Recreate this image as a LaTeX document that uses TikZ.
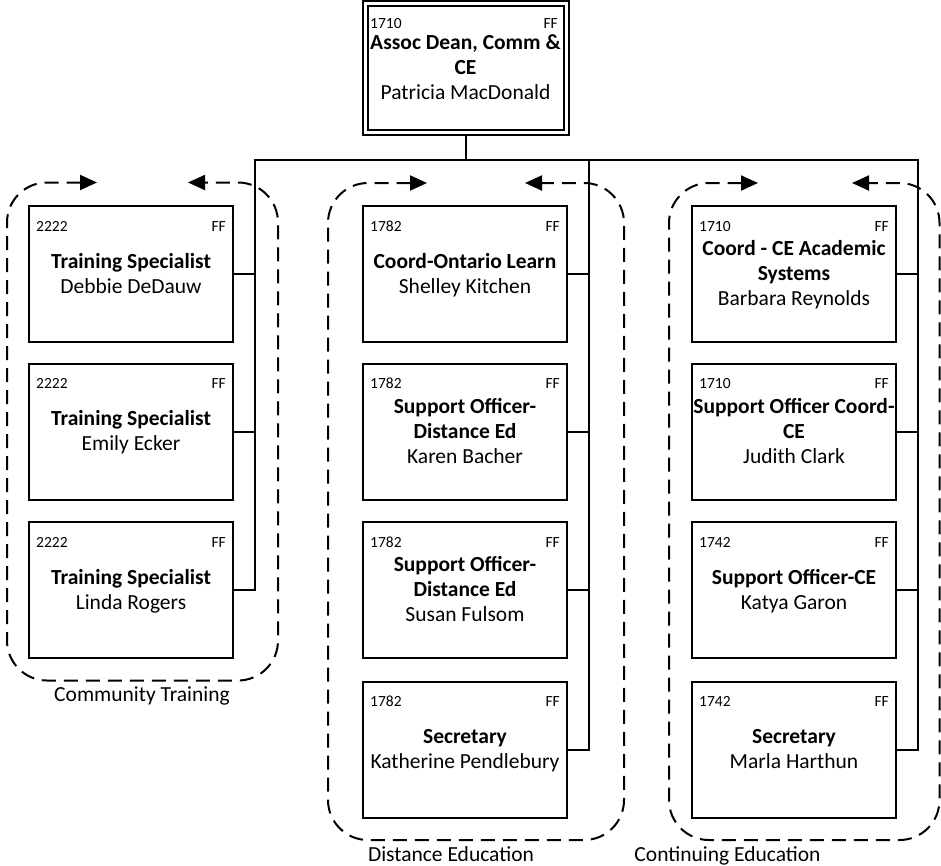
\documentclass[tikz,border=0pt]{standalone}
\usepackage{fontspec}
\setmainfont{Carlito}
\usetikzlibrary{arrows.meta}
\newcommand\Ttl[1]{\smash{\textbf{#1}}}
\newcommand\Nm[1]{\smash{#1}}
\newcommand\Fst{\rule{0pt}{13.8pt}}
\newcommand\orgbox[5]{%
  \node[obox] (#1) at (#2,#3) {#5};
  \node[ocode,anchor=base west] (#1-code) at ([xshift=8pt,yshift=-26pt]#1.north west) {#4};
  \node[ocode,anchor=base east] (#1-ff) at ([xshift=-8pt,yshift=-26pt]#1.north east) {FF};
}
\tikzset{
  obox/.style={draw=black, line width=2pt, fill=white, minimum width=204pt, minimum height=136pt,
    inner sep=0pt, align=center, font=\fontsize{21.5}{25}\selectfont},
  topbox/.style={draw=black, line width=2pt, double=white, double distance=3pt,
    minimum width=201pt, minimum height=129pt, inner sep=0pt, align=center,
    font=\fontsize{21.5}{25}\selectfont},
  ocode/.style={inner sep=0pt, font=\fontsize{15.5}{18}\selectfont},
  conn/.style={draw=black, line width=2pt},
  grp/.style={draw=black, line width=2pt, dash pattern=on 14pt off 8pt, rounded corners=40pt,
    {Triangle[length=17pt,width=15pt]}-{Triangle[length=17pt,width=15pt]}},
  glabel/.style={inner sep=0pt, anchor=base, font=\fontsize{21.5}{25}\selectfont}
}
\begin{document}
\begin{tikzpicture}[x=1pt,y=-1pt]
\useasboundingbox (0,0) rectangle (941,865);

% group outlines
\draw[grp] (97,182.5) -- (7,182.5) -- (7,680.5) -- (278,680.5) -- (278,182.5) -- (188,182.5);
\draw[grp] (427,183) -- (328,183) -- (328,840) -- (624,840) -- (624,183) -- (525,183);
\draw[grp] (758,183) -- (669,183) -- (669,840) -- (939.5,840) -- (939.5,183) -- (852,183);

\node[glabel] (gl1) at (142,701.5) {Community Training};
\node[glabel] (gl2) at (451,861) {Distance Education};
\node[glabel] (gl3) at (727.5,861) {Continuing Education};

% top box
\node[topbox] (top) at (465.5,68) {\Fst\Ttl{Assoc Dean, Comm \&}\\\Ttl{CE}\\\Nm{Patricia MacDonald}};
\node[ocode,anchor=base west] (top-code) at (370,28) {1710};
\node[ocode,anchor=base east] (top-ff) at (558,28) {FF};
\coordinate (bus) at (465.5,160);

% left column
\orgbox{a1}{131}{274}{2222}{\Fst\Ttl{Training Specialist}\\\Nm{Debbie DeDauw}}
\orgbox{a2}{131}{431.5}{2222}{\Fst\Ttl{Training Specialist}\\\Nm{Emily Ecker}}
\orgbox{a3}{131}{590}{2222}{\Fst\Ttl{Training Specialist}\\\Nm{Linda Rogers}}

% middle column
\orgbox{b1}{465}{274}{1782}{\Fst\Ttl{Coord-Ontario Learn}\\\Nm{Shelley Kitchen}}
\orgbox{b2}{465}{431.5}{1782}{\Fst\Ttl{Support Officer-}\\\Ttl{Distance Ed}\\\Nm{Karen Bacher}}
\orgbox{b3}{465}{590}{1782}{\Fst\Ttl{Support Officer-}\\\Ttl{Distance Ed}\\\Nm{Susan Fulsom}}
\orgbox{b4}{465}{749.5}{1782}{\Fst\Ttl{Secretary}\\\Nm{Katherine Pendlebury}}

% right column
\orgbox{c1}{794}{274}{1710}{\Fst\Ttl{Coord - CE Academic}\\\Ttl{Systems}\\\Nm{Barbara Reynolds}}
\orgbox{c2}{794}{431.5}{1710}{\Fst\Ttl{Support Officer Coord-}\\\Ttl{CE}\\\Nm{Judith Clark}}
\orgbox{c3}{794}{590}{1742}{\Fst\Ttl{Support Officer-CE}\\\Nm{Katya Garon}}
\orgbox{c4}{794}{749.5}{1742}{\Fst\Ttl{Secretary}\\\Nm{Marla Harthun}}

% connectors
\draw[conn] (top.south) -- (bus);
\foreach \b in {a1,a2,a3,b1,b2,b3,b4,c1,c2,c3,c4}{
  \draw[conn] (\b.east) -- ++(21,0) |- (bus);
}
\end{tikzpicture}
\end{document}
